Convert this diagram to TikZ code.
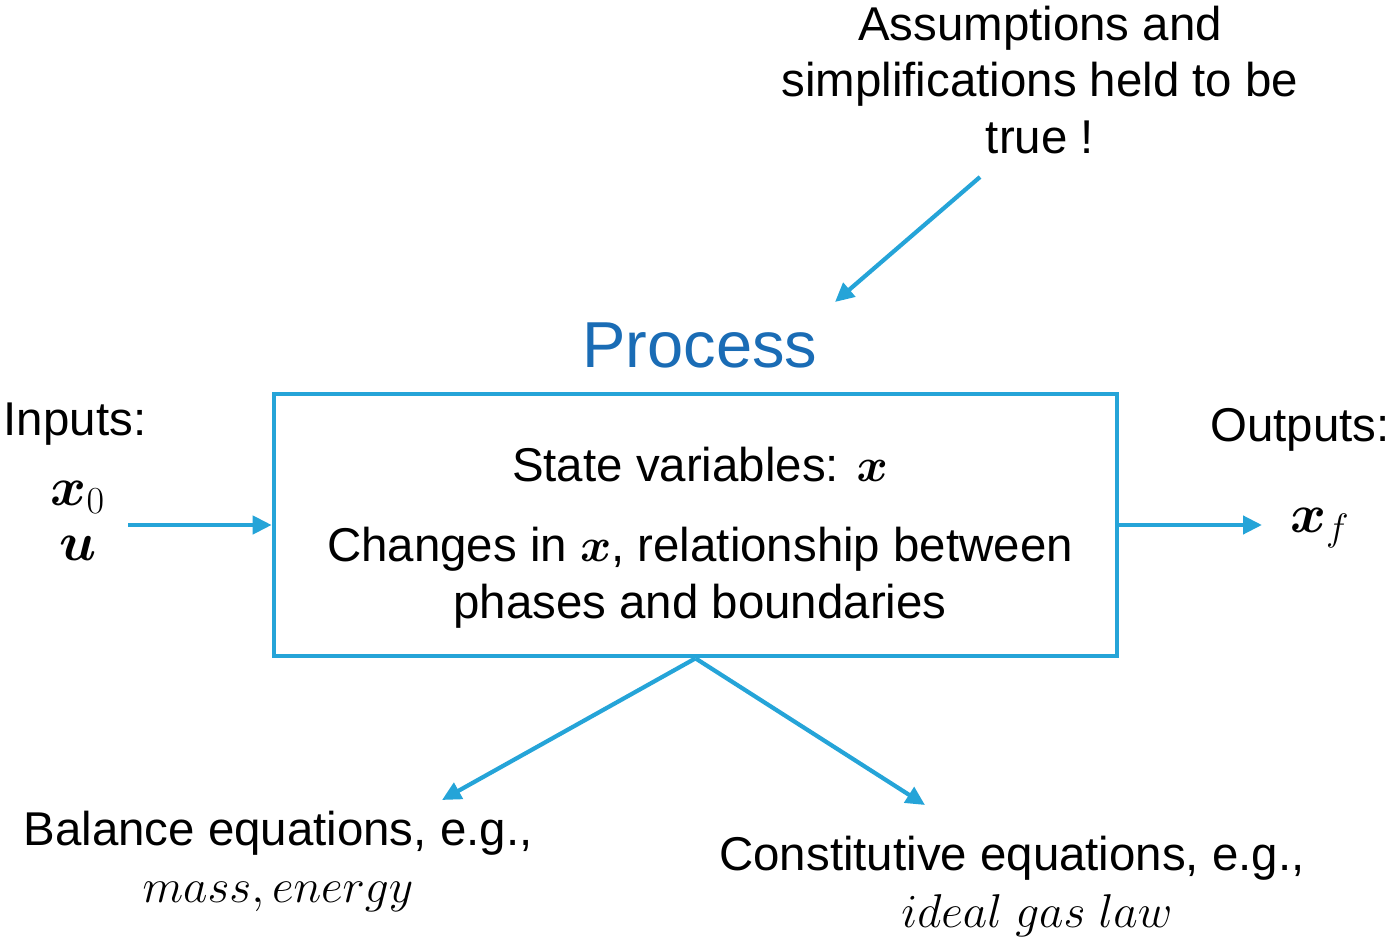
\RequirePackage{fix-cm}
\documentclass[tikz,border=0pt]{standalone}
\usepackage{fontspec}
\setmainfont{Liberation Sans}
\usepackage{amsmath}
\usetikzlibrary{arrows.meta, positioning}
\definecolor{cline}{HTML}{25A4D8}
\definecolor{cproc}{HTML}{1A6CB5}
\tikzset{
  txt/.style={font=\fontsize{27}{32.4}\selectfont, align=center, inner sep=0pt},
  title/.style={font=\fontsize{37}{44}\selectfont, text=cproc, inner sep=0pt},
  procbox/.style={draw=cline, line width=2.7pt, minimum width=16.86cm, minimum height=5.24cm, inner sep=0pt},
  arrow/.style={-{Triangle[length=3.8mm, width=3.6mm]}, draw=cline, line width=2.4pt},
}
\begin{document}
\begin{tikzpicture}[x=0.02cm, y=-0.02cm]
  \useasboundingbox (0,0) rectangle (1393,942);
  % the process block and its title
  \node[procbox] (box) at (695.5,525) {};
  \node[title] (proc) at (700,345) {Process};
  \node[txt] (state) at (700,465) {State variables: $\boldsymbol{x}$};
  \node[txt] (change) at (700,578) {Changes in $\boldsymbol{x}$, relationship between\\phases and boundaries};
  % assumptions from above
  \node[txt] (assum) at (1040,80) {Assumptions and\\simplifications held to be\\true !};
  \coordinate (afrom) at (980,177);
  \coordinate (ato) at (835,302);
  \draw[arrow] (afrom) -- (ato);
  % inputs
  \node[txt] (inlab) at (75,424) {Inputs:};
  \node[txt, scale=1.15] (xin) at (78,497) {$\boldsymbol{x}_0$};
  \node[txt, scale=1.15] (uin) at (78,548) {$\boldsymbol{u}$};
  \coordinate (infrom) at (128,525);
  \draw[arrow] (infrom) -- (box.west);
  % outputs
  \node[txt] (outlab) at (1300,430) {Outputs:};
  \node[txt, scale=1.15] (xout) at (1320,528) {$\boldsymbol{x}_f$};
  \coordinate (outto) at (1262,525);
  \draw[arrow] (box.east) -- (outto);
  % equations below
  \coordinate (bal) at (442,800);
  \coordinate (con) at (925,805);
  \draw[arrow] (box.south) -- (bal);
  \draw[arrow] (box.south) -- (con);
  \node[txt] (baltxt) at (278,861) {Balance equations, e.g.,\\$mass, energy$};
  \node[txt] (contxt) at (1012,886) {Constitutive equations, e.g.,\\\hspace*{1.0cm}$ideal\ gas\ law$};
\end{tikzpicture}
\end{document}
